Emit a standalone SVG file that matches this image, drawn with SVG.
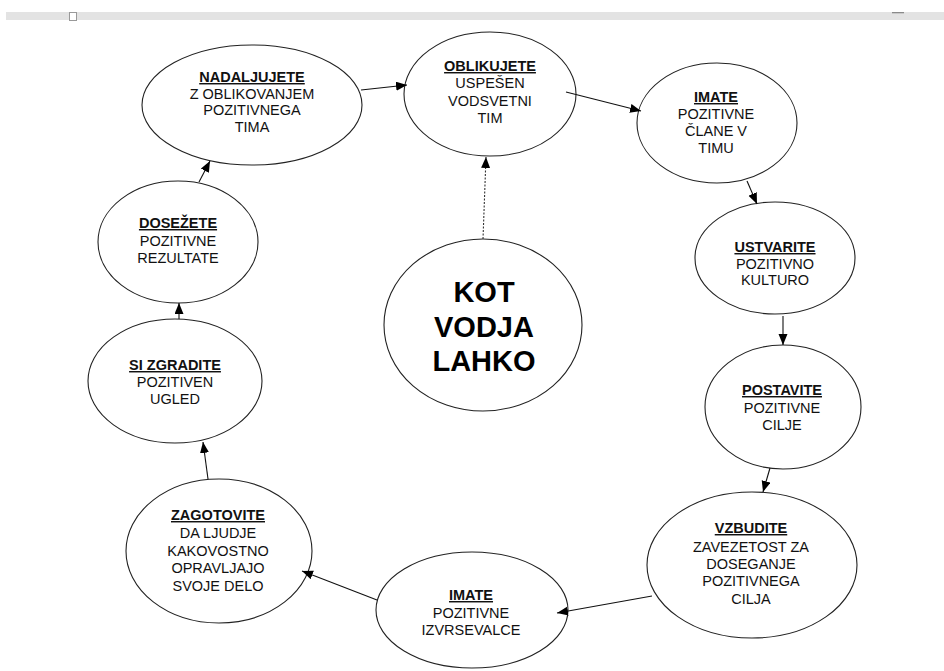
<svg xmlns="http://www.w3.org/2000/svg" width="944" height="671" viewBox="0 0 944 671">
<style>
  .node { fill: #ffffff; stroke: #222222; stroke-width: 1.1; }
  .t { font-family: "Liberation Sans", Arial, sans-serif; font-size: 14.5px; fill: #111111; text-anchor: middle; }
  .h { font-weight: bold; text-decoration: underline; }
  .big { font-family: "Liberation Sans", Arial, sans-serif; font-size: 29px; font-weight: bold; fill: #000000; text-anchor: middle; }
  .conn line { stroke: #111111; stroke-width: 1.1; marker-end: url(#arrow); }
  .conn line.dotted { stroke-dasharray: 2 1.5; stroke: #333333; }
</style>
<defs>
  <marker id="arrow" markerUnits="userSpaceOnUse" markerWidth="12" markerHeight="10" refX="11" refY="4.5" orient="auto">
    <path d="M0,0 L11,4.5 L0,9 z" fill="#000000"/>
  </marker>
</defs>
<rect x="0" y="0" width="944" height="671" fill="#ffffff"/>
<g id="toolbar">
  <rect x="6" y="12" width="938" height="8" fill="#e3e3e3"/>
  <rect x="69.5" y="12.5" width="7" height="8" fill="#ffffff" stroke="#999999" stroke-width="1"/>
  <rect x="892" y="12" width="12" height="1.3" fill="#8a8a8a"/>
</g>
<g id="n-nadaljujete">
  <ellipse class="node" cx="252" cy="105" rx="110" ry="60"/>
  <text class="t"><tspan class="h" x="252" y="82">NADALJUJETE</tspan><tspan x="252" y="98.5">Z OBLIKOVANJEM</tspan><tspan x="252" y="115">POZITIVNEGA</tspan><tspan x="252" y="132">TIMA</tspan></text>
</g>
<g id="n-oblikujete">
  <ellipse class="node" cx="490" cy="94" rx="86" ry="62"/>
  <text class="t"><tspan class="h" x="490" y="71">OBLIKUJETE</tspan><tspan x="490" y="88">USPEŠEN</tspan><tspan x="490" y="105.5">VODSVETNI</tspan><tspan x="490" y="122.5">TIM</tspan></text>
</g>
<g id="n-imate-clane">
  <ellipse class="node" cx="717" cy="123" rx="80" ry="60"/>
  <text class="t"><tspan class="h" x="716" y="102">IMATE</tspan><tspan x="716" y="119">POZITIVNE</tspan><tspan x="716" y="136">ČLANE V</tspan><tspan x="716" y="153">TIMU</tspan></text>
</g>
<g id="n-ustvarite">
  <ellipse class="node" cx="775" cy="258" rx="80" ry="56"/>
  <text class="t"><tspan class="h" x="775" y="252">USTVARITE</tspan><tspan x="775" y="268.5">POZITIVNO</tspan><tspan x="775" y="285">KULTURO</tspan></text>
</g>
<g id="n-postavite">
  <ellipse class="node" cx="783" cy="407" rx="78" ry="62"/>
  <text class="t"><tspan class="h" x="782" y="395">POSTAVITE</tspan><tspan x="782" y="412.5">POZITIVNE</tspan><tspan x="782" y="430">CILJE</tspan></text>
</g>
<g id="n-vzbudite">
  <ellipse class="node" cx="752" cy="565" rx="105" ry="73"/>
  <text class="t"><tspan class="h" x="751" y="533">VZBUDITE</tspan><tspan x="751" y="551.5">ZAVEZETOST ZA</tspan><tspan x="751" y="568.5">DOSEGANJE</tspan><tspan x="751" y="586">POZITIVNEGA</tspan><tspan x="751" y="603.5">CILJA</tspan></text>
</g>
<g id="n-imate-izvrsevalce">
  <ellipse class="node" cx="472" cy="610" rx="96" ry="58"/>
  <text class="t"><tspan class="h" x="471" y="600">IMATE</tspan><tspan x="471" y="618">POZITIVNE</tspan><tspan x="471" y="634.5">IZVRSEVALCE</tspan></text>
</g>
<g id="n-zagotovite">
  <ellipse class="node" cx="219" cy="551" rx="93" ry="72"/>
  <text class="t"><tspan class="h" x="218" y="520">ZAGOTOVITE</tspan><tspan x="218" y="538">DA LJUDJE</tspan><tspan x="218" y="555.5">KAKOVOSTNO</tspan><tspan x="218" y="573">OPRAVLJAJO</tspan><tspan x="218" y="590.5">SVOJE DELO</tspan></text>
</g>
<g id="n-si-zgradite">
  <ellipse class="node" cx="175" cy="381" rx="87" ry="62"/>
  <text class="t"><tspan class="h" x="175" y="370">SI ZGRADITE</tspan><tspan x="175" y="387">POZITIVEN</tspan><tspan x="175" y="403.5">UGLED</tspan></text>
</g>
<g id="n-dosezete">
  <ellipse class="node" cx="178" cy="242" rx="80" ry="61"/>
  <text class="t"><tspan class="h" x="178" y="228">DOSEŽETE</tspan><tspan x="178" y="246">POZITIVNE</tspan><tspan x="178" y="263">REZULTATE</tspan></text>
</g>
<g id="n-kot-vodja-lahko">
  <ellipse class="node" cx="483" cy="325" rx="99" ry="86"/>
  <text class="big"><tspan x="484" y="302">KOT</tspan><tspan x="484" y="337">VODJA</tspan><tspan x="484" y="371">LAHKO</tspan></text>
</g>
<g id="connectors" class="conn">
  <line x1="361" y1="90" x2="407" y2="85"/>
  <line x1="566" y1="92" x2="641" y2="111"/>
  <line x1="747" y1="181" x2="757" y2="204"/>
  <line x1="783" y1="316" x2="783" y2="345"/>
  <line x1="770" y1="468" x2="763" y2="492"/>
  <line x1="652" y1="596" x2="557" y2="613"/>
  <line x1="377" y1="600" x2="302" y2="571"/>
  <line x1="208" y1="479" x2="203" y2="442"/>
  <line x1="179" y1="319" x2="179" y2="303"/>
  <line x1="199" y1="182" x2="210" y2="161"/>
  <line class="dotted" x1="483" y1="239" x2="486" y2="157"/>
</g>
</svg>
